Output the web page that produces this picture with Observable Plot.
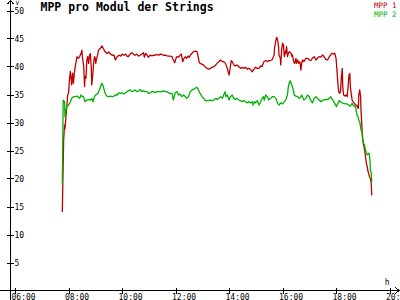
<!DOCTYPE html>
<html>
<head>
<meta charset="utf-8">
<script src="https://cdn.jsdelivr.net/npm/d3@7"></script>
<script src="https://cdn.jsdelivr.net/npm/@observablehq/plot@0.6"></script>
<style>
html, body { margin: 0; padding: 0; background: #fff; overflow: hidden; }
#chart svg { display: block; overflow: hidden; background: #fff; }
</style>
</head>
<body>
<div id="chart"></div>
<script>
const chartTitle = "MPP pro Modul der Strings";
const seriesNames = ["MPP 1", "MPP 2"];
const seriesColors = ["#c00000", "#00b000"];
const yUnit = "V";
const xUnit = "h";
const xTickLabels = ["06:00", "08:00", "10:00", "12:00", "14:00", "16:00", "18:00", "20:00"];
const yTicks = [5, 10, 15, 20, 25, 30, 35, 40, 45, 50];

const mpp1Times = ["07:45","07:48","07:50","07:51","07:55","07:57","07:59","08:01","08:03","08:05","08:06","08:08","08:10","08:12","08:14","08:18","08:21","08:24","08:25","08:27","08:29","08:30","08:33","08:35","08:36","08:38","08:40","08:42","08:44","08:46","08:48","08:50","08:51","08:53","08:55","08:57","08:59","09:00","09:02","09:05","09:06","09:10","09:14","09:17","09:21","09:26","09:29","09:33","09:37","09:41","09:44","09:48","09:52","09:56","09:59","10:03","10:07","10:10","10:13","10:17","10:21","10:25","10:28","10:32","10:36","10:40","10:43","10:47","10:49","10:52","10:55","10:58","11:02","11:06","11:10","11:13","11:17","11:21","11:25","11:28","11:32","11:36","11:40","11:43","11:47","11:51","11:54","11:57","12:00","12:02","12:06","12:09","12:12","12:13","12:15","12:18","12:21","12:24","12:27","12:30","12:32","12:36","12:39","12:43","12:47","12:49","12:52","12:54","12:58","13:02","13:06","13:10","13:14","13:17","13:21","13:25","13:29","13:32","13:36","13:40","13:44","13:47","13:51","13:55","13:59","14:01","14:04","14:06","14:10","14:13","14:17","14:21","14:25","14:28","14:32","14:36","14:40","14:43","14:47","14:51","14:55","14:58","15:02","15:06","15:10","15:13","15:17","15:21","15:25","15:28","15:32","15:36","15:40","15:41","15:44","15:46","15:48","15:50","15:51","15:54","15:55","15:57","15:59","16:01","16:03","16:05","16:06","16:08","16:10","16:12","16:14","16:18","16:20","16:21","16:24","16:26","16:29","16:30","16:33","16:35","16:38","16:40","16:42","16:44","16:47","16:51","16:55","16:59","17:02","17:06","17:10","17:14","17:17","17:21","17:25","17:29","17:32","17:36","17:40","17:44","17:47","17:50","17:54","17:56","17:58","17:59","18:01","18:03","18:05","18:07","18:09","18:11","18:13","18:14","18:16","18:19","18:22","18:24","18:26","18:28","18:30","18:31","18:33","18:35","18:37","18:40","18:43","18:45","18:46","18:49","18:50","18:52","18:54","18:55","18:57","18:58","19:00","19:01","19:03","19:04","19:06","19:07","19:09","19:10","19:12","19:14","19:16","19:18","19:19"];
const mpp1Values = [14.2,27.0,29.6,29.0,32.9,35.0,35.3,37.7,39.2,37.7,36.8,38.9,37.1,38.9,40.1,41.85,41.55,41.85,42.1,42.4,43.0,41.85,40.1,36.5,38.3,38.0,41.25,41.85,40.65,42.1,42.4,39.8,36.8,38.3,40.4,41.85,41.55,40.65,41.55,42.4,43.0,43.3,43.75,43.3,42.7,42.4,42.7,42.3,42.1,42.1,41.25,41.85,42.1,41.95,42.3,42.1,42.3,41.95,41.85,42.3,42.55,42.25,42.1,42.3,41.95,42.1,42.3,42.55,41.75,42.45,42.1,41.75,42.1,42.0,42.1,42.1,42.25,42.1,42.3,42.25,42.1,42.1,42.0,41.95,41.95,41.85,41.25,40.75,41.55,41.85,41.75,42.1,42.3,41.85,40.95,41.55,41.85,41.55,41.95,41.75,42.1,42.45,42.75,42.85,42.75,42.1,40.85,40.65,40.5,40.35,39.95,39.75,39.6,39.75,39.95,40.05,40.35,40.65,40.95,41.25,40.95,40.95,40.65,39.75,38.55,39.6,41.15,40.95,40.35,40.2,40.35,40.05,39.75,39.95,39.75,39.95,39.6,39.75,39.6,39.15,39.6,39.95,39.75,39.75,40.2,40.05,40.95,41.15,40.95,41.15,41.15,41.35,42.15,43.35,44.8,45.3,44.8,43.65,42.15,41.55,40.35,43.05,44.25,43.95,41.85,42.75,42.45,43.65,41.85,42.45,42.75,42.45,41.85,42.15,40.95,40.65,41.55,40.65,41.25,40.65,40.95,39.45,40.65,41.25,40.95,41.55,41.55,41.25,41.15,41.55,41.85,41.25,41.55,41.85,41.75,42.15,41.85,41.35,41.25,41.85,42.15,42.45,42.3,42.45,41.85,41.55,39.45,37.1,35.6,35.3,35.6,38.3,39.75,36.5,35.0,34.8,35.0,34.7,36.5,38.55,38.85,36.5,35.3,34.1,33.8,33.5,33.2,33.2,33.05,32.6,35.0,35.9,34.7,32.3,29.35,27.55,26.35,26.05,25.2,24.6,23.4,22.8,22.2,21.6,21.0,20.4,20.1,19.2,17.15];

const mpp2Times = ["07:45","07:47","07:50","07:51","07:53","07:55","07:59","08:03","08:06","08:10","08:14","08:18","08:21","08:24","08:27","08:29","08:33","08:36","08:40","08:44","08:48","08:51","08:54","08:57","09:00","09:05","09:08","09:11","09:14","09:17","09:21","09:25","09:29","09:33","09:37","09:41","09:44","09:48","09:52","09:56","09:59","10:03","10:07","10:10","10:13","10:17","10:21","10:25","10:28","10:32","10:36","10:40","10:43","10:47","10:51","10:55","10:58","11:02","11:06","11:10","11:13","11:17","11:21","11:25","11:28","11:32","11:36","11:40","11:43","11:47","11:51","11:54","11:58","12:02","12:06","12:09","12:13","12:17","12:21","12:24","12:28","12:32","12:36","12:39","12:43","12:47","12:50","12:54","12:58","13:02","13:06","13:10","13:14","13:17","13:21","13:25","13:29","13:32","13:36","13:40","13:44","13:47","13:50","13:52","13:55","13:59","14:02","14:06","14:10","14:13","14:17","14:21","14:25","14:28","14:32","14:36","14:40","14:43","14:47","14:51","14:53","14:56","14:58","15:02","15:06","15:10","15:13","15:16","15:18","15:21","15:25","15:28","15:32","15:36","15:40","15:44","15:48","15:51","15:55","15:59","16:03","16:06","16:10","16:12","16:14","16:16","16:18","16:21","16:24","16:25","16:29","16:33","16:36","16:40","16:42","16:45","16:47","16:51","16:55","16:59","17:02","17:06","17:10","17:14","17:17","17:21","17:25","17:29","17:32","17:36","17:40","17:44","17:47","17:50","17:54","17:56","17:58","18:00","18:01","18:04","18:06","18:09","18:13","18:16","18:20","18:24","18:28","18:31","18:34","18:35","18:37","18:40","18:43","18:44","18:46","18:49","18:50","18:52","18:54","18:55","18:58","18:59","19:01","19:03","19:05","19:07","19:09","19:11","19:13","19:15","19:16","19:18","19:19"];
const mpp2Values = [19.2,34.1,33.8,31.1,32.3,32.9,33.2,33.8,34.4,34.7,34.7,34.8,34.6,34.4,35.0,34.8,34.6,33.8,34.1,34.2,34.1,34.4,33.8,34.7,35.0,35.3,35.9,36.5,37.1,36.5,35.3,34.8,34.7,34.8,34.7,34.8,35.0,35.0,35.4,35.3,35.4,35.2,35.4,35.6,35.75,35.9,35.6,35.75,35.9,35.6,35.75,36.0,35.6,35.75,35.6,35.6,35.3,35.4,35.6,35.6,35.4,35.6,35.6,35.6,35.6,35.75,35.6,35.6,35.4,35.3,35.3,34.1,35.4,35.6,35.0,35.2,34.7,35.0,34.7,34.4,34.7,35.6,35.9,36.0,36.2,36.35,36.0,35.3,34.8,34.4,34.0,34.0,34.0,34.1,34.0,34.1,34.4,34.2,34.4,34.7,34.4,35.0,35.6,34.7,35.0,34.1,34.7,35.0,34.4,34.2,34.4,34.1,34.0,33.8,34.0,33.8,33.6,33.8,33.6,33.8,33.2,33.8,33.6,34.0,33.2,33.8,34.4,34.7,34.1,35.0,34.7,34.1,34.4,34.7,34.7,34.4,33.5,33.2,33.6,33.4,33.8,34.1,35.0,36.5,37.1,37.55,37.1,36.5,35.6,35.0,34.8,34.7,34.4,34.7,35.0,34.4,34.1,34.4,35.0,34.7,34.1,33.6,34.4,34.7,34.4,34.1,33.8,34.1,34.1,34.2,34.2,34.4,34.7,34.3,33.8,33.5,33.2,32.9,33.2,33.6,34.0,33.8,33.6,33.5,33.4,33.4,33.2,33.0,33.4,33.5,33.2,33.0,32.9,32.3,31.4,31.0,30.5,30.2,29.35,28.75,28.15,26.95,26.35,26.05,25.2,24.7,24.3,24.45,24.6,23.4,21.6,21.0,19.5];

const toHours = s => { const [h, m] = s.split(":").map(Number); return h + m / 60; };
const mpp1 = mpp1Times.map((t, i) => ({series: seriesNames[0], t: toHours(t), v: mpp1Values[i]}));
const mpp2 = mpp2Times.map((t, i) => ({series: seriesNames[1], t: toHours(t), v: mpp2Values[i]}));

const mono = "DejaVu Sans Mono, monospace";

const axesMark = (index, scales, values, dims) => {
  const sx = scales.x, sy = scales.y;
  const W = dims.width, H = dims.height;
  const ax = 10.5, ay = sy(0);
  const g = d3.create("svg:g").attr("fill", "none").attr("stroke", "#000").attr("stroke-width", 1).attr("shape-rendering", "crispEdges");
  g.append("line").attr("x1", ax).attr("x2", ax).attr("y1", 0).attr("y2", H);
  g.append("line").attr("x1", 0).attr("x2", W - 1).attr("y1", ay).attr("y2", ay);
  g.append("path").attr("d", `M${ax - 3},4L${ax},0.5L${ax + 3},4`);
  g.append("path").attr("d", `M${W - 5},${ay - 3.5}L${W - 1},${ay}L${W - 5},${ay + 3.5}`);
  for (const v of yTicks) {
    const y = Math.round(sy(v)) + 0.5;
    g.append("line").attr("x1", 7).attr("x2", 14).attr("y1", y).attr("y2", y);
  }
  for (const l of xTickLabels) {
    const x = Math.round(sx(toHours(l))) + 0.5;
    g.append("line").attr("x1", x).attr("x2", x).attr("y1", ay - 3).attr("y2", ay + 3.5);
  }
  return g.node();
};

const chart = Plot.plot({
  width: 400,
  height: 300,
  marginTop: 0, marginRight: 0, marginBottom: 0, marginLeft: 0,
  style: {background: "#fff", overflow: "hidden"},
  x: {type: "linear", domain: [6, 20], range: [15, 389.5], axis: null},
  y: {type: "linear", domain: [0, 50], range: [290.5, 10.5], axis: null},
  marks: [
    axesMark,
    Plot.line(mpp1, {x: "t", y: "v", stroke: seriesColors[0], strokeWidth: 1.3, curve: "linear"}),
    Plot.line(mpp2, {x: "t", y: "v", stroke: seriesColors[1], strokeWidth: 1.3, curve: "linear"}),
    Plot.text(yTicks, {y: d => d, text: d => String(d), frameAnchor: "left", dx: 14, textAnchor: "start", fontSize: 8, fontFamily: mono, fill: "#000"}),
    Plot.text(xTickLabels, {x: d => toHours(d), text: d => d, frameAnchor: "bottom", dx: -4, dy: -1, lineAnchor: "bottom", textAnchor: "start", fontSize: 8, fontFamily: mono, fill: "#000"}),
    Plot.text([chartTitle], {frameAnchor: "top-left", dx: 40, dy: 10, lineAnchor: "bottom", textAnchor: "start", fontSize: 11.5, fontWeight: "bold", fontFamily: mono, fill: "#000"}),
    Plot.text([seriesNames[0]], {frameAnchor: "top-right", dx: -4, dy: 7, lineAnchor: "bottom", textAnchor: "end", fontSize: 7.5, fontFamily: mono, fill: seriesColors[0]}),
    Plot.text([seriesNames[1]], {frameAnchor: "top-right", dx: -4, dy: 16, lineAnchor: "bottom", textAnchor: "end", fontSize: 7.5, fontFamily: mono, fill: seriesColors[1]}),
    Plot.text([yUnit], {frameAnchor: "top-left", dx: 15, dy: 4.5, lineAnchor: "bottom", textAnchor: "start", fontSize: 6, fontFamily: mono, fill: "#000"}),
    Plot.text([xUnit], {frameAnchor: "bottom-right", dx: -11, dy: -16, lineAnchor: "bottom", textAnchor: "end", fontSize: 8, fontFamily: mono, fill: "#000"})
  ]
});
document.getElementById("chart").appendChild(chart);
</script>
</body>
</html>
